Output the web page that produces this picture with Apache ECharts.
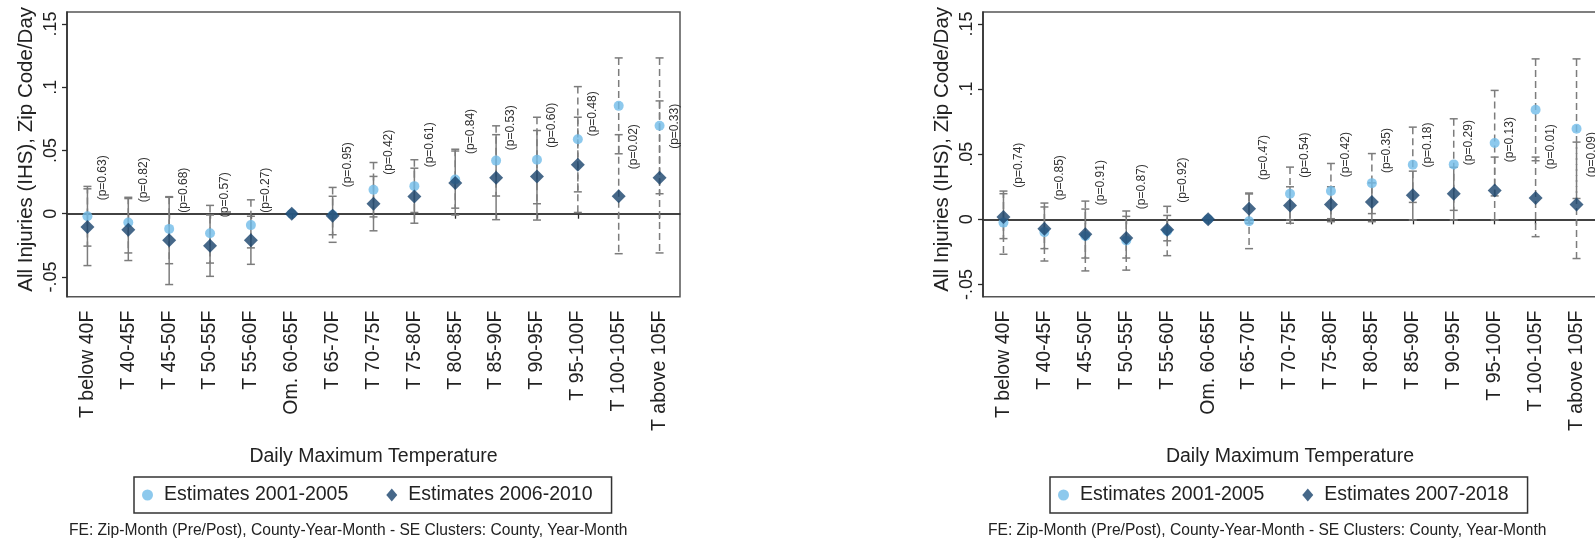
<!DOCTYPE html>
<html>
<head>
<meta charset="utf-8">
<script src="https://cdn.jsdelivr.net/npm/echarts@6/dist/echarts.min.js"></script>
<style>
  html, body { margin: 0; padding: 0; background: #ffffff; overflow: hidden; }
  #chart { width: 1595px; height: 540px; }
</style>
</head>
<body>
<div id="chart"></div>
<script>
// Temperature bins (60-65F is the omitted reference bin)
const categories = ['T below 40F', 'T 40-45F', 'T 45-50F', 'T 50-55F', 'T 55-60F', 'Om. 60-65F',
  'T 65-70F', 'T 70-75F', 'T 75-80F', 'T 80-85F', 'T 85-90F', 'T 90-95F', 'T 95-100F',
  'T 100-105F', 'T above 105F'];

const yTickValues = [-0.05, 0, 0.05, 0.1, 0.15];
const yTickLabels = ['-.05', '0', '.05', '.1', '.15'];

// Left panel: 2001-2005 vs 2006-2010
const leftNames = ['Estimates 2001-2005', 'Estimates 2006-2010'];
const leftEarlyEst = [-0.002, -0.007, -0.012, -0.0155, -0.009, 0, -0.001, 0.019, 0.0218, 0.027, 0.042, 0.0427, 0.0589, 0.0853, 0.0695];
const leftEarlyLo  = [-0.0256, -0.031, -0.0395, -0.039, -0.027, null, -0.0226, -0.0025, 0.001, 0.0044, 0.014, 0.0079, 0.0173, 0.0474, 0.0158];
const leftEarlyHi  = [0.0216, 0.013, 0.013, 0.0066, 0.011, null, 0.0208, 0.0405, 0.0427, 0.051, 0.0695, 0.0763, 0.1005, 0.1232, 0.1232];
const leftLateEst  = [-0.0105, -0.0126, -0.021, -0.0253, -0.021, 0, -0.0016, 0.0079, 0.0137, 0.0243, 0.0284, 0.0294, 0.0387, 0.0138, 0.0284];
const leftLateLo   = [-0.041, -0.037, -0.056, -0.0495, -0.040, null, -0.0166, -0.0135, -0.0075, -0.001, -0.0047, -0.005, 0.001, -0.0316, -0.031];
const leftLateHi   = [0.0197, 0.012, 0.0135, -0.001, -0.002, null, 0.0138, 0.0295, 0.036, 0.0496, 0.0625, 0.0658, 0.0763, 0.0625, 0.0892];
const leftPValues  = ['0.63', '0.82', '0.68', '0.57', '0.27', null, '0.95', '0.42', '0.61', '0.84', '0.53', '0.60', '0.48', '0.02', '0.33'];
const leftPLabelAt = [0.0284, 0.0268, 0.0186, 0.015, 0.0186, null, 0.0387, 0.0486, 0.0545, 0.0651, 0.068, 0.0699, 0.079, 0.053, 0.0691];

// Right panel: 2001-2005 vs 2007-2018
const rightNames = ['Estimates 2001-2005', 'Estimates 2007-2018'];
const rightEarlyEst = [-0.0025, -0.0098, -0.0128, -0.0163, -0.009, 0, -0.0015, 0.0197, 0.0217, 0.0278, 0.0419, 0.0422, 0.0586, 0.0841, 0.0696];
const rightEarlyLo  = [-0.0268, -0.032, -0.0396, -0.039, -0.0279, null, -0.0225, -0.0005, 0.0005, 0.0044, 0.013, 0.0069, 0.018, 0.045, 0.016];
const rightEarlyHi  = [0.0217, 0.0125, 0.014, 0.0064, 0.01, null, 0.0195, 0.0401, 0.0429, 0.0505, 0.0708, 0.0772, 0.099, 0.1232, 0.1232];
const rightLateEst  = [0.0018, -0.0072, -0.0115, -0.0143, -0.0079, 0, 0.0082, 0.0107, 0.0113, 0.0133, 0.0184, 0.0197, 0.0222, 0.0163, 0.0113];
const rightLateLo   = [-0.0148, -0.0225, -0.0297, -0.0297, -0.0165, null, -0.003, -0.003, -0.0018, -0.0018, -0.0005, -0.0005, -0.0005, -0.0133, -0.0301];
const rightLateHi   = [0.0197, 0.0095, 0.0079, 0.0023, 0.003, null, 0.0202, 0.025, 0.025, 0.028, 0.037, 0.040, 0.0478, 0.0478, 0.0593];
const rightPValues  = ['0.74', '0.85', '0.91', '0.87', '0.92', null, '0.47', '0.54', '0.42', '0.35', '0.18', '0.29', '0.13', '0.01', '0.09'];
const rightPLabelAt = [0.0416, 0.032, 0.0282, 0.0251, 0.0301, null, 0.0474, 0.0493, 0.0497, 0.0528, 0.057, 0.0589, 0.0612, 0.0558, 0.0497];

const xTitle = 'Daily Maximum Temperature';
const yTitle = 'All Injuries (IHS), Zip Code/Day';
const footnote = 'FE: Zip-Month (Pre/Post), County-Year-Month - SE Clusters: County, Year-Month';

// ---- styling ----
const FONT = '"Liberation Sans", Arial, Helvetica, sans-serif';
const LIGHT = '#70bbe8';
const DARK = '#18426b';
const BAR = '#7c7c7c';
const INK = '#222222';
const HOT_BINS_FROM = 12; // hottest three bins: both intervals dashed

const panels = [
  { names: leftNames, early: [leftEarlyEst, leftEarlyLo, leftEarlyHi], late: [leftLateEst, leftLateLo, leftLateHi],
    p: leftPValues, pAt: leftPLabelAt, grid: { left: 67, top: 12, width: 613, height: 284.7 },
    yMin: -0.0656, yMax: 0.1595, legendLeft: 134, noteX: 69 },
  { names: rightNames, early: [rightEarlyEst, rightEarlyLo, rightEarlyHi], late: [rightLateEst, rightLateLo, rightLateHi],
    p: rightPValues, pAt: rightPLabelAt, grid: { left: 983, top: 12, width: 614, height: 284.7 },
    yMin: -0.0594, yMax: 0.1592, legendLeft: 1050, noteX: 988 }
];

function yLabel(v) {
  for (let k = 0; k < yTickValues.length; k++) {
    if (Math.abs(v - yTickValues[k]) < 1e-9) return yTickLabels[k];
  }
  return '';
}

function errorBars(name, idx, lo, hi, dashAll) {
  const data = [];
  lo.forEach((l, i) => { if (l !== null) data.push([i, l, hi[i]]); });
  return {
    type: 'custom', name, xAxisIndex: idx, yAxisIndex: idx, silent: true, z: 2,
    encode: { x: 0, y: [1, 2] },
    data,
    renderItem(params, api) {
      const i = api.value(0);
      const top = api.coord([i, api.value(2)]);
      const bot = api.coord([i, api.value(1)]);
      const dashed = dashAll || i >= HOT_BINS_FROM;
      const cap = 4;
      const capStyle = { stroke: BAR, lineWidth: 1.5 };
      return {
        type: 'group',
        children: [
          { type: 'line', shape: { x1: top[0], y1: top[1], x2: bot[0], y2: bot[1] },
            style: { stroke: BAR, lineWidth: 1.5, lineDash: dashed ? [7, 4] : null } },
          { type: 'line', shape: { x1: top[0] - cap, y1: top[1], x2: top[0] + cap, y2: top[1] }, style: capStyle },
          { type: 'line', shape: { x1: bot[0] - cap, y1: bot[1], x2: bot[0] + cap, y2: bot[1] }, style: capStyle }
        ]
      };
    }
  };
}

function pLabels(idx, pv, at) {
  const data = [];
  const texts = [];
  pv.forEach((p, i) => { if (p !== null) { data.push([i, at[i]]); texts.push('(p=' + p + ')'); } });
  return {
    type: 'custom', name: 'p' + idx, xAxisIndex: idx, yAxisIndex: idx, silent: true, z: 6,
    encode: { x: 0, y: 1 },
    data,
    renderItem(params, api) {
      const c = api.coord([api.value(0), api.value(1)]);
      return {
        type: 'text', x: c[0] + 15, y: c[1], rotation: Math.PI / 2,
        style: { text: texts[params.dataIndex], align: 'center', verticalAlign: 'middle',
                 fontSize: 12, fontFamily: FONT, fill: '#333' }
      };
    }
  };
}

const option = {
  animation: false,
  backgroundColor: '#ffffff',
  textStyle: { fontFamily: FONT },
  grid: panels.map(p => Object.assign({ show: true, borderColor: '#555', borderWidth: 1.5, outerBoundsMode: 'none' }, p.grid)),
  xAxis: panels.map((p, idx) => ({
    type: 'category', gridIndex: idx, data: categories, boundaryGap: true,
    axisLine: { show: true, lineStyle: { color: '#2a2a2a', width: 1.5 } },
    axisTick: { show: true, alignWithLabel: true, length: 5, lineStyle: { color: '#2a2a2a', width: 1.3 } },
    axisLabel: { rotate: 90, interval: 0, margin: 14, fontSize: 19.5, color: INK, fontFamily: FONT },
    splitLine: { show: false },
    name: xTitle, nameLocation: 'middle', nameGap: 150,
    nameTextStyle: { fontSize: 19.5, color: INK, fontFamily: FONT }
  })),
  yAxis: panels.map((p, idx) => ({
    type: 'value', gridIndex: idx, min: p.yMin, max: p.yMax,
    axisLine: { show: true, lineStyle: { color: '#2a2a2a', width: 1.5 } },
    axisTick: { show: true, length: 5, customValues: yTickValues, lineStyle: { color: '#2a2a2a', width: 1.3 } },
    axisLabel: { customValues: yTickValues, rotate: 90, margin: 7, fontSize: 18, color: INK, fontFamily: FONT,
                 formatter: yLabel },
    splitLine: { show: false },
    name: yTitle, nameLocation: 'middle', nameRotate: 90, nameGap: 30,
    nameTextStyle: { fontSize: 20.5, color: INK, fontFamily: FONT, padding: [0, 0, 0, 10] }
  })),
  legend: panels.map(p => ({
    left: p.legendLeft, top: 477, orient: 'horizontal', selectedMode: false,
    data: [
      { name: p.names[0], icon: 'circle', itemStyle: { color: LIGHT } },
      { name: p.names[1], icon: 'diamond', itemStyle: { color: DARK } }
    ],
    itemWidth: 11, itemHeight: 13, itemGap: 38,
    padding: [8, 19, 8, 8],
    borderColor: '#333', borderWidth: 1.5,
    textStyle: { fontSize: 19.5, color: INK, fontFamily: FONT, padding: [0, 0, 0, 6] }
  })),
  graphic: panels.map(p => ({
    type: 'text', x: p.noteX, y: 531, silent: true,
    style: { text: footnote, align: 'left', verticalAlign: 'middle', fontSize: 15.6, fontFamily: FONT, fill: INK }
  })),
  series: []
};

panels.forEach((p, idx) => {
  option.series.push(errorBars('ci-early-' + idx, idx, p.early[1], p.early[2], true));
  option.series.push(errorBars('ci-late-' + idx, idx, p.late[1], p.late[2], false));
  option.series.push({
    type: 'scatter', name: p.names[0], xAxisIndex: idx, yAxisIndex: idx, z: 3,
    symbol: 'circle', symbolSize: 10, itemStyle: { color: LIGHT },
    data: p.early[0],
    markLine: {
      silent: true, symbol: 'none', z: 1, label: { show: false },
      lineStyle: { color: '#3a3a3a', width: 1.5, type: 'solid' },
      data: [{ yAxis: 0 }]
    }
  });
  option.series.push({
    type: 'scatter', name: p.names[1], xAxisIndex: idx, yAxisIndex: idx, z: 4,
    symbol: 'diamond', symbolSize: 14, itemStyle: { color: DARK },
    data: p.late[0]
  });
  option.series.push(pLabels(idx, p.p, p.pAt));
});

const chart = echarts.init(document.getElementById('chart'), null, { renderer: 'canvas' });
chart.setOption(option);
</script>
</body>
</html>
